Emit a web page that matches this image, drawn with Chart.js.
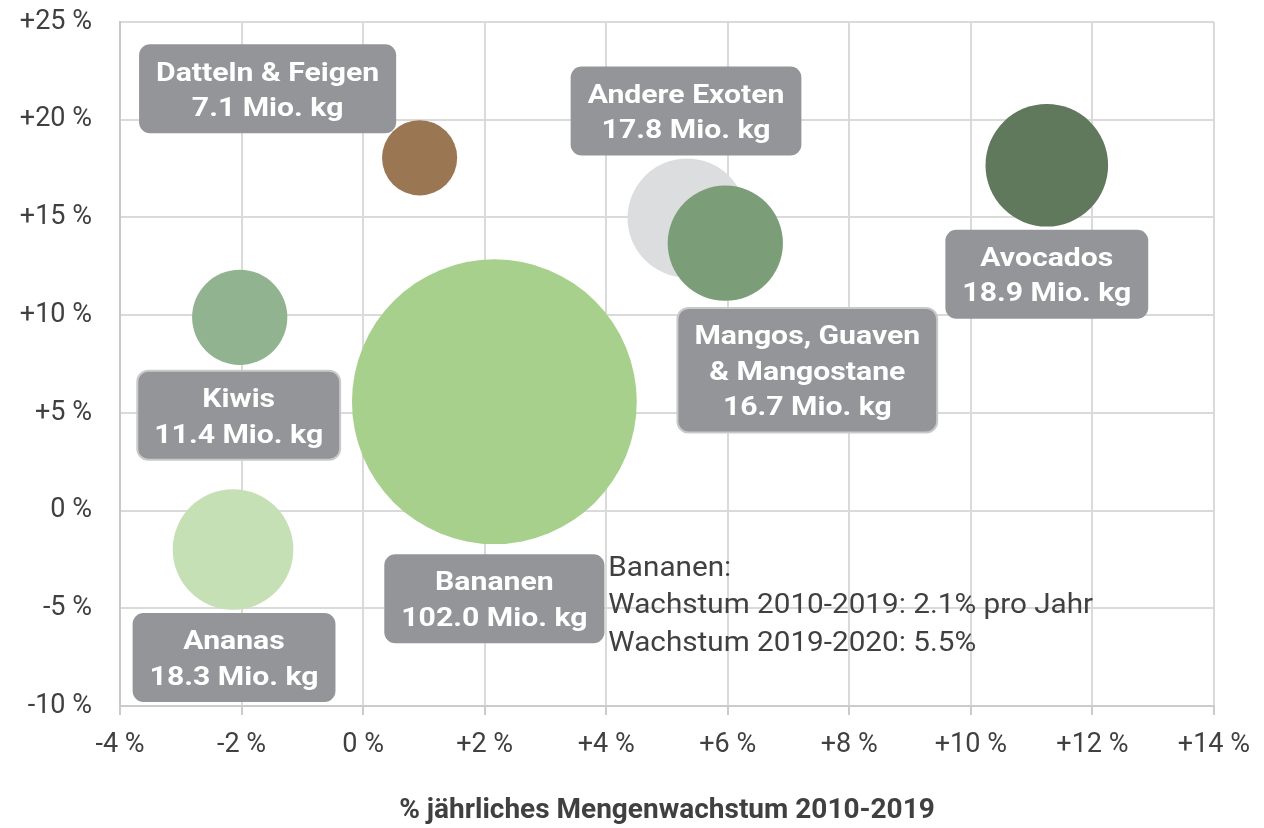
<!DOCTYPE html>
<html lang="de">
<head>
    <meta charset="UTF-8"/>
    <title>Exotische Früchte - Mengenwachstum</title>
    <script src="https://cdn.jsdelivr.net/npm/chart.js"></script>
    <style>
        html, body { margin: 0; padding: 0; background: #ffffff; }
        canvas { display: block; }
    </style>
</head>
<body>
<canvas id="graficoFruechte" width="1264" height="828"></canvas>

<script>
    // Daten
    const fruits = ['Datteln & Feigen', 'Andere Exoten', 'Mangos, Guaven\n& Mangostane', 'Avocados', 'Kiwis', 'Bananen', 'Ananas'];
    const growth2010_2019 = [0.93, 5.33, 5.96, 11.25, -2.03, 2.16, -2.14];
    const growth2019_2020 = [18.05, 14.97, 13.68, 17.67, 9.89, 5.57, -1.99];
    const volumeMioKg = [7.1, 17.8, 16.7, 18.9, 11.4, 102.0, 18.3];
    const bubbleColors = ['#9b7653', '#dcdddf', '#7b9e78', '#60785c', '#92b390', '#a8d08d', '#c5e0b4'];

    const xTickValues = [-4, -2, 0, 2, 4, 6, 8, 10, 12, 14];
    const xTickLabels = ['-4 %', '-2 %', '0 %', '+2 %', '+4 %', '+6 %', '+8 %', '+10 %', '+12 %', '+14 %'];
    const yTickValues = [-10, -5, 0, 5, 10, 15, 20, 25];
    const yTickLabels = ['-10 %', '-5 %', '0 %', '+5 %', '+10 %', '+15 %', '+20 %', '+25 %'];

    const noteLines = ['Bananen:', 'Wachstum 2010-2019: 2.1% pro Jahr', 'Wachstum 2019-2020: 5.5%'];

    // Label-Position relativ zum Blasenmittelpunkt (px), Rahmen ja/nein
    const labelOffsets = [[-152, -69], [-1, -107], [82, 127], [0, 109], [-1, 98], [0, 197], [1, 108]];
    const labelBorder = [false, false, true, false, true, false, false];

    const TEXT = '#404040';
    const GRID = '#dadada';

    function bubbleRadius(v) {
        // Fläche proportional zur Menge
        return Math.sqrt(v) * 14.1;
    }

    function drawStretched(ctx, text, x, y, sx) {
        ctx.save();
        ctx.translate(x, y);
        ctx.scale(sx, 1);
        ctx.fillText(text, 0, 0);
        ctx.restore();
    }

    const labelPlugin = {
        id: 'fruitLabels',
        afterDatasetsDraw(chart) {
            const ctx = chart.ctx;
            const meta = chart.getDatasetMeta(0);
            const sx = 1.16;
            const lineH = 35.5;

            ctx.save();
            ctx.font = 'bold 26px Roboto';
            ctx.textAlign = 'center';
            ctx.textBaseline = 'middle';

            meta.data.forEach((pt, i) => {
                const lines = fruits[i].split('\n').concat(volumeMioKg[i].toFixed(1) + ' Mio. kg');
                const textW = Math.max(...lines.map(l => ctx.measureText(l).width)) * sx;
                const w = textW + 34;
                const h = lines.length * lineH + 18;
                const cx = pt.x + labelOffsets[i][0];
                const cy = pt.y + labelOffsets[i][1];

                ctx.beginPath();
                ctx.roundRect(cx - w / 2, cy - h / 2, w, h, 11);
                ctx.fillStyle = '#939598';
                ctx.fill();
                if (labelBorder[i]) {
                    ctx.lineWidth = 2;
                    ctx.strokeStyle = '#c9c9c9';
                    ctx.stroke();
                }

                ctx.fillStyle = '#ffffff';
                lines.forEach((l, k) => {
                    drawStretched(ctx, l, cx, cy + (k - (lines.length - 1) / 2) * lineH + 3, sx);
                });
            });

            // Hinweis zu Bananen
            const banana = meta.data[fruits.indexOf('Bananen')];
            ctx.font = '28px Roboto';
            ctx.textAlign = 'left';
            ctx.fillStyle = TEXT;
            noteLines.forEach((l, k) => {
                drawStretched(ctx, l, banana.x + 114, banana.y + 167 + k * 37.6, 1.06);
            });
            ctx.restore();
        }
    };

    const data = {
        datasets: [{
            label: 'Früchte',
            data: fruits.map((f, i) => ({
                x: growth2010_2019[i],
                y: growth2019_2020[i],
                r: bubbleRadius(volumeMioKg[i])
            })),
            backgroundColor: bubbleColors,
            borderWidth: 0,
            hoverBorderWidth: 0
        }]
    };

    const config = {
        type: 'bubble',
        data: data,
        options: {
            responsive: false,
            devicePixelRatio: 1,
            animation: false,
            events: [],
            layout: { autoPadding: false, padding: { top: 22, right: 49, bottom: 0, left: 0 } },
            plugins: {
                legend: { display: false },
                tooltip: { enabled: false }
            },
            scales: {
                x: {
                    type: 'linear',
                    min: -4,
                    max: 14,
                    afterBuildTicks: s => { s.ticks = xTickValues.map(v => ({ value: v })); },
                    afterFit: s => { s.height = 122; },
                    ticks: {
                        callback: (v, i) => xTickLabels[i],
                        font: { family: 'Roboto', size: 27 },
                        color: TEXT,
                        padding: 14,
                        maxRotation: 0,
                        autoSkip: false
                    },
                    grid: { color: GRID, lineWidth: 2, tickLength: 9, tickColor: '#cbcbcb' },
                    border: { color: '#cbcbcb', width: 2 },
                    title: {
                        display: true,
                        text: '% jährliches Mengenwachstum 2010-2019',
                        font: { family: 'Roboto', size: 28, weight: 'bold', lineHeight: 1 },
                        color: TEXT,
                        padding: { top: 0, bottom: 3 }
                    }
                },
                y: {
                    type: 'linear',
                    min: -10,
                    max: 25,
                    afterBuildTicks: s => { s.ticks = yTickValues.map(v => ({ value: v })); },
                    afterFit: s => { s.width = 120; },
                    ticks: {
                        callback: (v, i) => yTickLabels[i],
                        font: { family: 'Roboto', size: 27 },
                        color: TEXT,
                        padding: 0
                    },
                    // unsichtbare Tick-Striche als Abstand zwischen Achse und Beschriftung
                    grid: { color: GRID, lineWidth: 2, drawTicks: true, tickLength: 28, tickColor: 'rgba(0,0,0,0)' },
                    border: { color: '#c8c8c8', width: 2 }
                }
            }
        },
        plugins: [labelPlugin]
    };

    window.onload = function() {
        const ctx = document.getElementById('graficoFruechte').getContext('2d');
        new Chart(ctx, config);
    };
</script>
</body>
</html>
